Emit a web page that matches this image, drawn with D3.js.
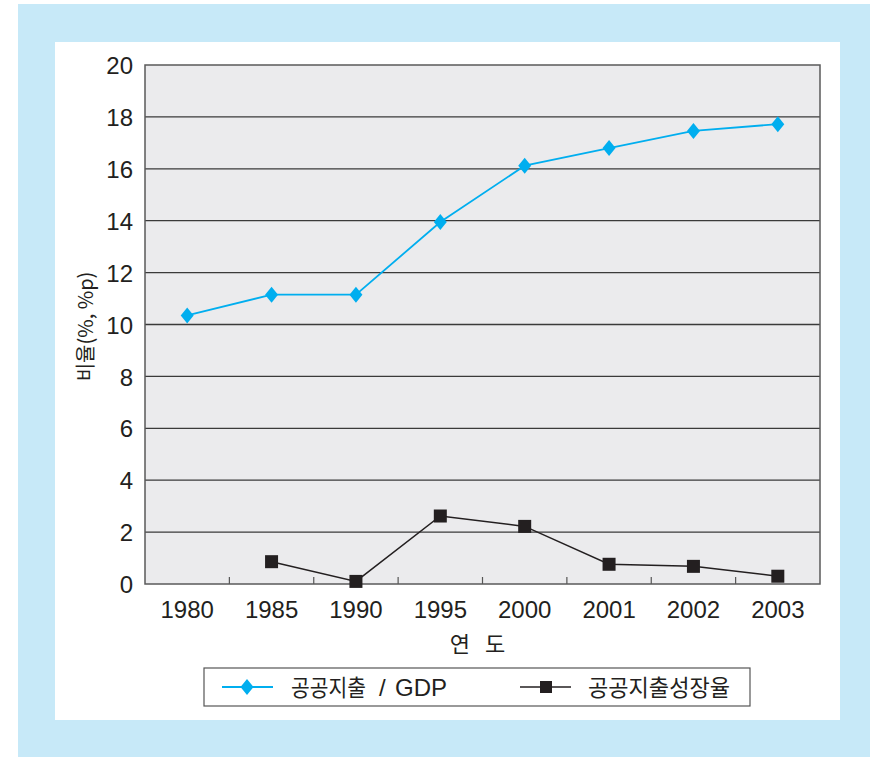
<!DOCTYPE html>
<html>
<head>
<meta charset="utf-8">
<script src="https://cdn.jsdelivr.net/npm/d3@7"></script>
<style>
body{margin:0;background:#fff;}
svg{display:block;}
text{font-family:"Liberation Sans Narrow","Liberation Sans","Noto Sans CJK KR",sans-serif;fill:#231f20;}
.kr{font-family:"Noto Sans CJK KR",sans-serif;}
</style>
</head>
<body>
<svg></svg>
<script>
let years=['1980','1985','1990','1995','2000','2001','2002','2003'];
let gdpRatio=[10.35,11.15,11.15,13.95,16.12,16.8,17.46,17.72];
let growth=[null,0.86,0.1,2.62,2.22,0.76,0.68,0.3];
let yTicks=[0,2,4,6,8,10,12,14,16,18,20];
let seriesNames=['공공지출','공공지출성장율'];

let width=872,height=757;
let plotLeft=145,plotRight=820,plotTop=65,plotBottom=584;
let svg=d3.select('svg').attr('width',width).attr('height',height);

// frame
svg.append('rect').attr('x',18).attr('y',4).attr('width',852).attr('height',753).attr('fill','#c7e9f8');
svg.append('rect').attr('x',55).attr('y',42).attr('width',785).attr('height',678).attr('fill','#fff');

let xScale=d3.scaleBand().domain(years).range([plotLeft,plotRight]);
let yScale=d3.scaleLinear().domain([0,20]).range([plotBottom,plotTop]);

svg.append('rect').attr('x',plotLeft).attr('y',plotTop).attr('width',plotRight-plotLeft).attr('height',plotBottom-plotTop)
   .attr('fill','#ebebed');

// gridlines
svg.selectAll('.grid').data(yTicks.slice(1,-1)).enter().append('line')
   .attr('x1',plotLeft).attr('x2',plotRight)
   .attr('y1',d=>yScale(d)).attr('y2',d=>yScale(d))
   .attr('stroke','#3a3a3a').attr('stroke-width',1.3);

// x ticks between bands
svg.selectAll('.xt').data(years.slice(1)).enter().append('line')
   .attr('x1',d=>xScale(d)).attr('x2',d=>xScale(d))
   .attr('y1',plotBottom).attr('y2',plotBottom-7)
   .attr('stroke','#555').attr('stroke-width',1.2);

svg.append('rect').attr('x',plotLeft).attr('y',plotTop).attr('width',plotRight-plotLeft).attr('height',plotBottom-plotTop)
   .attr('fill','none').attr('stroke','#5a5a5a').attr('stroke-width',1.5);

// axes labels
let yAxis=d3.axisLeft(yScale).tickValues(yTicks).tickSize(0).tickPadding(12);
let gy=svg.append('g').attr('transform','translate('+plotLeft+',0)').call(yAxis);
gy.select('.domain').remove();
gy.attr('font-family',null);
gy.selectAll('text').style('font-size','24px').attr('fill','#231f20').attr('dy','0.36em');

let xAxis=d3.axisBottom(xScale).tickSize(0).tickPadding(17);
let gx=svg.append('g').attr('transform','translate(0,'+plotBottom+')').call(xAxis);
gx.select('.domain').remove();
gx.attr('font-family',null);
gx.selectAll('text').style('font-size','24px').attr('fill','#231f20');

svg.append('text').attr('class','kr').attr('transform','translate(93,'+((plotTop+plotBottom)/2+2)+') rotate(-90)')
   .attr('text-anchor','middle').style('font-size','20px').text('비율(%, %p)');
svg.append('text').attr('class','kr').attr('x',(plotLeft+plotRight)/2-5).attr('y',652)
   .attr('text-anchor','middle').style('font-size','22px')
   .attr('xml:space','preserve').text('연   도');

let cx=d=>xScale(d)+xScale.bandwidth()/2;

// GDP series
let line=d3.line().x(d=>cx(d.year)).y(d=>yScale(d.v));
let gdpData=years.map((y,i)=>({year:y,v:gdpRatio[i]}));
svg.append('path').datum(gdpData).attr('d',line).attr('fill','none')
   .attr('stroke','#00aeef').attr('stroke-width',1.8);
let diamond=d3.symbol().type(d3.symbolDiamond).size(74);
svg.selectAll('.dia').data(gdpData).enter().append('path')
   .attr('d',diamond)
   .attr('transform',d=>'translate('+cx(d.year)+','+yScale(d.v)+') scale(1.4,1)')
   .attr('fill','#00aeef');

// growth series
let growthData=years.map((y,i)=>({year:y,v:growth[i]})).filter(d=>d.v!==null);
svg.append('path').datum(growthData).attr('d',line).attr('fill','none')
   .attr('stroke','#231f20').attr('stroke-width',1.5);
svg.selectAll('.sq').data(growthData).enter().append('rect')
   .attr('x',d=>cx(d.year)-6.5).attr('y',d=>yScale(d.v)-6.5)
   .attr('width',13).attr('height',13).attr('fill','#231f20');

// legend
let lg=svg.append('g');
lg.append('rect').attr('x',204).attr('y',668).attr('width',546).attr('height',38)
  .attr('fill','#fff').attr('stroke','#555').attr('stroke-width',1.2);
lg.append('line').attr('x1',222).attr('x2',273).attr('y1',687).attr('y2',687)
  .attr('stroke','#00aeef').attr('stroke-width',1.8);
lg.append('path').attr('d',diamond).attr('transform','translate(247,687) scale(1.4,1)').attr('fill','#00aeef');
lg.append('text').attr('class','kr').attr('x',291).attr('y',696).style('font-size','23px')
  .attr('textLength',75).attr('lengthAdjust','spacingAndGlyphs').text(seriesNames[0]);
lg.append('text').attr('x',379).attr('y',696).style('font-size','24px').text('/');
lg.append('text').attr('x',395).attr('y',696).style('font-size','24px').text('GDP');
lg.append('line').attr('x1',520).attr('x2',571).attr('y1',687).attr('y2',687)
  .attr('stroke','#231f20').attr('stroke-width',1.5);
lg.append('rect').attr('x',540).attr('y',681).attr('width',12).attr('height',12).attr('fill','#231f20');
lg.append('text').attr('class','kr').attr('x',588).attr('y',696).style('font-size','23px')
  .attr('textLength',142).attr('lengthAdjust','spacingAndGlyphs').text(seriesNames[1]);
</script>
</body>
</html>
